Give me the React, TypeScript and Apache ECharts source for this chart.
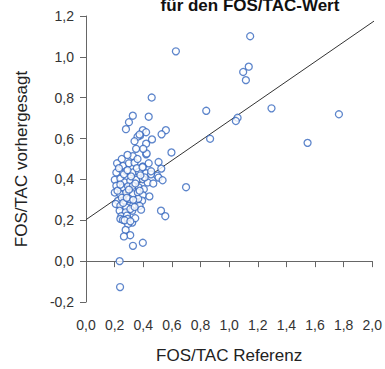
import React, { useEffect, useRef } from "react";
import * as echarts from "echarts";

const titleText = "für den FOS/TAC-Wert";
const xAxisName = "FOS/TAC Referenz";
const yAxisName = "FOS/TAC vorhergesagt";

// FOS/TAC reference values (x)
const fosTacReferenz: number[] = [
  0.628, 1.147, 1.137, 1.098, 1.117, 0.84, 1.296, 1.767, 1.059, 1.047, 0.867, 1.548, 0.597, 0.699,
  0.459, 0.327, 0.438, 0.3, 0.279, 0.397, 0.558, 0.42, 0.528, 0.378, 0.36, 0.461, 0.339, 0.42, 0.327, 0.42, 0.374, 0.424, 0.498,
  0.217, 0.258, 0.3, 0.339, 0.397, 0.438, 0.507, 0.526, 0.212, 0.281, 0.328, 0.369, 0.42, 0.454, 0.507, 0.535,
  0.201, 0.24, 0.27, 0.309, 0.351, 0.397, 0.431, 0.212, 0.258, 0.293, 0.328, 0.369, 0.404,
  0.201, 0.24, 0.281, 0.328, 0.362, 0.397, 0.443, 0.224, 0.27, 0.304, 0.351, 0.392,
  0.208, 0.24, 0.281, 0.328, 0.374, 0.235, 0.277, 0.323, 0.385, 0.524, 0.554, 0.247, 0.286,
  0.24, 0.258, 0.291, 0.323, 0.293, 0.344, 0.277, 0.309, 0.265, 0.328, 0.397, 0.235, 0.238,
  0.23, 0.265, 0.315, 0.355, 0.25, 0.3, 0.345, 0.22, 0.26, 0.31, 0.365, 0.41, 0.29, 0.34, 0.38, 0.24, 0.285, 0.33, 0.375, 0.455, 0.47, 0.27, 0.31, 0.395, 0.36, 0.25, 0.29, 0.4, 0.35,
];

// FOS/TAC predicted values (y)
const fosTacVorhergesagt: number[] = [
  1.027, 1.101, 0.952, 0.926, 0.886, 0.736, 0.748, 0.719, 0.702, 0.686, 0.599, 0.579, 0.532, 0.362,
  0.801, 0.712, 0.707, 0.68, 0.646, 0.641, 0.641, 0.631, 0.621, 0.615, 0.609, 0.596, 0.587, 0.575, 0.514, 0.523, 0.62, 0.527, 0.418,
  0.479, 0.466, 0.479, 0.482, 0.463, 0.479, 0.485, 0.453, 0.434, 0.441, 0.434, 0.437, 0.43, 0.425, 0.409, 0.396,
  0.398, 0.404, 0.385, 0.393, 0.398, 0.401, 0.385, 0.369, 0.361, 0.366, 0.369, 0.361, 0.352,
  0.336, 0.328, 0.336, 0.328, 0.336, 0.323, 0.317, 0.296, 0.296, 0.304, 0.291, 0.296,
  0.28, 0.271, 0.263, 0.271, 0.271, 0.247, 0.239, 0.247, 0.252, 0.247, 0.22, 0.22, 0.223,
  0.207, 0.202, 0.207, 0.189, 0.182, 0.21, 0.153, 0.127, 0.121, 0.075, 0.09, 0.0, -0.127,
  0.455, 0.425, 0.415, 0.455, 0.31, 0.35, 0.38, 0.345, 0.285, 0.255, 0.305, 0.41, 0.445, 0.265, 0.42, 0.375, 0.31, 0.3, 0.345, 0.44, 0.38, 0.2, 0.195, 0.46, 0.5, 0.5, 0.52, 0.55, 0.55,
];

// regression line end points
const fitX: number[] = [0, 2.07];
const fitY: number[] = [0.203, 1.203];

const xTicks = { min: 0, max: 2, interval: 0.2 };
const yTicks = { min: -0.2, max: 1.2, interval: 0.2 };

const FONT = "'Liberation Sans', Arial, sans-serif";
const fmt = (v: number) => (Math.abs(v) < 1e-9 ? 0 : v).toFixed(1).replace(".", ",");

export default function App() {
  const ref = useRef<HTMLDivElement>(null);
  useEffect(() => {
    if (!ref.current) return;
    const chart = echarts.init(ref.current, null, { renderer: "svg" });
    const points = fosTacReferenz.map((x, i) => [x, fosTacVorhergesagt[i]]);
    const fit = fitX.map((x, i) => [x, fitY[i]]);
    const axisCommon = {
      axisLine: { show: true, lineStyle: { color: "#666", width: 1 } },
      axisTick: { show: true, inside: false, length: 6, lineStyle: { color: "#666" } },
      splitLine: { show: false },
      axisLabel: { color: "#333", fontSize: 14, fontFamily: FONT, formatter: fmt },
      nameLocation: "middle" as const,
      nameTextStyle: { color: "#222", fontSize: 17, fontFamily: FONT },
    };
    chart.setOption({
      animation: false,
      backgroundColor: "#fff",
      title: {
        text: titleText,
        left: 245,
        textAlign: "center",
        top: -8,
        textStyle: { fontSize: 17, fontWeight: "bold", color: "#111", fontFamily: FONT },
      },
      grid: { left: 86, right: 10, top: 16, bottom: 65, containLabel: false },
      xAxis: {
        type: "value",
        ...axisCommon,
        min: xTicks.min,
        max: xTicks.max,
        interval: xTicks.interval,
        name: xAxisName,
        nameGap: 45,
        axisLabel: { ...axisCommon.axisLabel, margin: 16 },
      },
      yAxis: {
        type: "value",
        ...axisCommon,
        min: yTicks.min,
        max: yTicks.max,
        interval: yTicks.interval,
        name: yAxisName,
        nameGap: 56,
        axisLabel: { ...axisCommon.axisLabel, margin: 12 },
      },
      series: [
        {
          type: "line",
          data: fit,
          symbol: "none",
          clip: false,
          z: 1,
          lineStyle: { color: "#333", width: 1 },
        },
        {
          type: "scatter",
          data: points,
          symbol: "circle",
          symbolSize: 7,
          z: 2,
          itemStyle: { color: "#fff", borderColor: "#3567be", borderWidth: 1.3 },
        },
      ],
    });
    return () => chart.dispose();
  }, []);
  return <div ref={ref} style={{ width: 385, height: 369, position: "absolute", left: 0, top: 0 }} />;
}
